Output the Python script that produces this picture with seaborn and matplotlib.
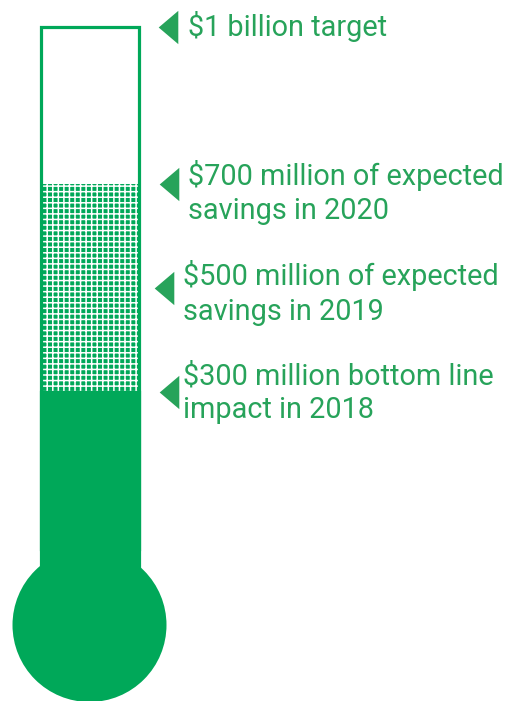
import matplotlib
matplotlib.use("Agg")
import matplotlib.pyplot as plt
import seaborn as sns
import pandas as pd
from matplotlib.patches import Ellipse

# Savings programme milestones, $ millions
target = 1000
expected_2020 = 700
expected_2019 = 500
impact_2018 = 300

milestones = [target, expected_2020, expected_2019, impact_2018]
labels = [
    "$1 billion target",
    "$700 million of expected\nsavings in 2020",
    "$500 million of expected\nsavings in 2019",
    "$300 million bottom line\nimpact in 2018",
]

GREEN = "#00a859"
LABEL_GREEN = "#27a35a"

sns.set_theme(style="white")
plt.rcParams["font.family"] = ["Roboto", "DejaVu Sans"]
plt.rcParams["hatch.linewidth"] = 1.1

W, H = 513, 701
fig = plt.figure(figsize=(W / 100, H / 100), dpi=100)
ax = fig.add_axes([0, 0, 1, 1])

# pixel layout of the thermometer
PX_PER_UNIT_X = 122.5      # bar width 0.8 -> 98 px
STEM_CENTER_PX = 89.5
ZERO_PX = 549.0            # y pixel of $0
PX_PER_M = 0.522           # pixels per $ million

def px_to_x(px):
    return (px - STEM_CENTER_PX) / PX_PER_UNIT_X

def px_to_v(py):
    return (ZERO_PX - py) / PX_PER_M

stem = ["savings"]

# expected savings band (patterned)
sns.barplot(x=stem, y=[expected_2020], ax=ax, color=GREEN, saturation=1,
            width=0.8, hatch="+++", edgecolor="white", linewidth=0, zorder=2)
# realised impact (solid), running down into the bulb
sns.barplot(x=stem, y=[impact_2018], ax=ax, color=GREEN, saturation=1,
            width=0.8, edgecolor=GREEN, linewidth=2.3, zorder=3)
bulb_v = px_to_v(625)
for p in ax.patches[1:]:
    top = p.get_y() + p.get_height()
    p.set_y(bulb_v)
    p.set_height(top - bulb_v)
# tube outline up to the target
sns.barplot(x=stem, y=[target], ax=ax, facecolor="none", saturation=1,
            width=0.8, edgecolor=GREEN, linewidth=2.3, zorder=4)

bulb_r_px = 77
ax.add_patch(Ellipse((0, bulb_v), 2 * bulb_r_px / PX_PER_UNIT_X,
                     2 * bulb_r_px / PX_PER_M, facecolor=GREEN,
                     edgecolor="none", zorder=3))

# pointers and captions
arrow_px = [168, 169, 164, 169]
text_px = [188, 188, 183, 183]
text_dy_px = [-1, 9, 5, 1]
pointer = [(-10, 0), (10, -17), (10, 17)]
marks = pd.DataFrame({"x": [px_to_x(p) for p in arrow_px], "y": milestones})
sns.scatterplot(data=marks, x="x", y="y", ax=ax, marker=pointer, s=24 ** 2,
                color=LABEL_GREEN, linewidth=0, zorder=5, legend=False)
for v, lab, tx, dy in zip(milestones, labels, text_px, text_dy_px):
    ax.text(px_to_x(tx), v - dy / PX_PER_M, lab, color=LABEL_GREEN,
            fontsize=20.8, ha="left", va="center",
            linespacing=1.28, zorder=5)

ax.set_xlim(px_to_x(0), px_to_x(W))
ax.set_ylim(px_to_v(H), px_to_v(0))
ax.axis("off")

fig.savefig("out.png", dpi=100, facecolor="white")
